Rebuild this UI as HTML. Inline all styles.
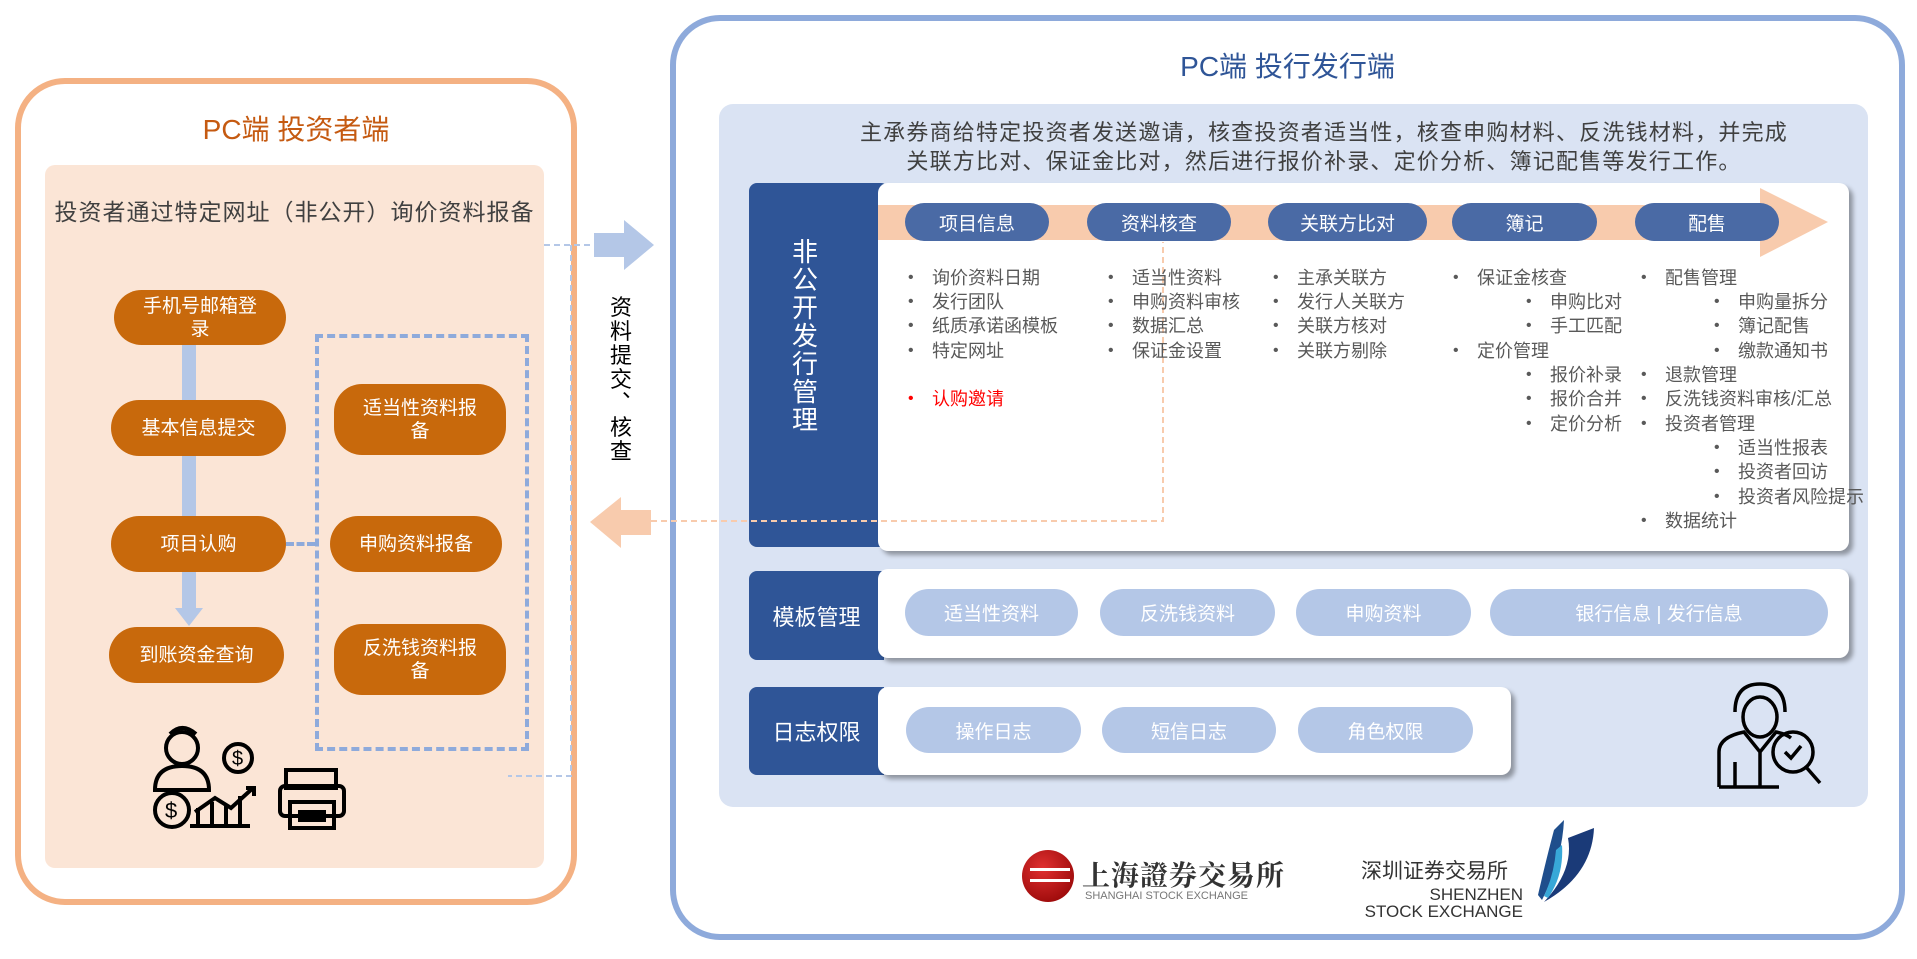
<!DOCTYPE html>
<html><head><meta charset="utf-8"><style>
*{margin:0;padding:0;box-sizing:border-box}
body{width:1917px;height:959px;background:#fff;position:relative;overflow:hidden;font-family:"Liberation Sans","Noto Sans CJK SC",sans-serif}
.a{position:absolute}
.op{position:absolute;background:#c8690c;color:#fff;border-radius:28px;display:flex;align-items:center;justify-content:center;text-align:center;font-size:19px;line-height:23px;padding:0 22px}
.bp{position:absolute;background:#4a6aa5;color:#fff;border-radius:19px;height:38px;top:203px;display:flex;align-items:center;justify-content:center;font-size:19px}
.lp{position:absolute;background:#b4c7e7;color:#fff;border-radius:24px;display:flex;align-items:center;justify-content:center;font-size:19px}
.dk{position:absolute;background:#2f5597;color:#fff;border-radius:8px 0 0 8px;display:flex;align-items:center;justify-content:center;font-size:22px}
.card{position:absolute;background:#fff;border-radius:10px;box-shadow:4px 4px 5px rgba(0,0,0,.35)}
.t{position:absolute;font-size:18px;color:#595959;white-space:nowrap;line-height:24px}
.t::before{content:"•";position:absolute;left:-24px;font-size:16px}
</style></head><body>
<!-- left box -->
<div class="a" style="left:15px;top:78px;width:562px;height:827px;border:6px solid #f4b183;border-radius:50px"></div>
<div class="a" style="left:15px;top:108px;width:562px;text-align:center;font-size:28px;color:#c55a11">PC端 投资者端</div>
<div class="a" style="left:45px;top:165px;width:499px;height:703px;background:#fbe5d6;border-radius:10px"></div>
<div class="a" style="left:45px;top:193px;width:499px;text-align:center;font-size:23px;letter-spacing:1px;color:#404040;white-space:nowrap">投资者通过特定网址（非公开）询价资料报备</div>
<div class="a" style="left:182px;top:340px;width:14px;height:272px;background:#b4c7e7"></div>
<div class="a" style="left:175px;top:608px;width:0;height:0;border-left:14px solid transparent;border-right:14px solid transparent;border-top:18px solid #b4c7e7"></div>
<div class="a" style="left:315px;top:334px;width:214px;height:417px;border:4px dashed #8eaadb"></div>
<div class="a" style="left:286px;top:542px;width:29px;border-top:4px dashed #8eaadb"></div>
<div class="op" style="left:114px;top:290px;width:172px;height:55px">手机号邮箱登录</div>
<div class="op" style="left:111px;top:400px;width:175px;height:56px">基本信息提交</div>
<div class="op" style="left:111px;top:516px;width:175px;height:56px">项目认购</div>
<div class="op" style="left:109px;top:627px;width:175px;height:56px">到账资金查询</div>
<div class="op" style="left:334px;top:384px;width:172px;height:71px">适当性资料报备</div>
<div class="op" style="left:330px;top:516px;width:172px;height:56px">申购资料报备</div>
<div class="op" style="left:334px;top:624px;width:172px;height:71px">反洗钱资料报备</div>
<svg class="a" style="left:150px;top:720px" width="210" height="112" viewBox="0 0 210 112" fill="none" stroke="#000" stroke-width="4">
<circle cx="32" cy="28" r="16"/><path d="M20 14 q12 -12 26 0"/><path d="M5 70 q0 -24 27 -24 q27 0 27 24 z"/>
<circle cx="88" cy="38" r="14"/><text x="82" y="45" font-size="20" fill="#000" stroke="none" font-family="Liberation Sans">$</text>
<circle cx="22" cy="90" r="17"/><text x="15" y="98" font-size="22" fill="#000" stroke="none" font-family="Liberation Sans">$</text>
<path d="M40 106 h60 M48 106 v-18 M62 106 v-24 M76 106 v-20 M90 106 v-30 M45 92 l20 -14 l16 10 l22 -20 M96 68 h8 v8"/>
<rect x="136" y="50" width="50" height="18"/><rect x="130" y="66" width="64" height="30" rx="5"/><rect x="140" y="82" width="44" height="26"/><path d="M148 92 h28 M148 100 h28"/>
</svg>
<!-- connectors -->
<svg class="a" style="left:0;top:0" width="1917" height="959">
<path d="M544 245 H593 M571 245 V776 H508" stroke="#b4c7e7" stroke-width="2" stroke-dasharray="6 4" fill="none"/>
<path d="M594 233 H624 V220 L654 245 L624 270 V257 H594 Z" fill="#b4c7e7"/>
<path d="M651 510 H621 V497 L590 522 L621 548 V535 H651 Z" fill="#f8cbad"/>
</svg>
<div class="a" style="left:609px;top:296px;width:24px;font-size:22px;line-height:24px;color:#000;text-align:center">资<br>料<br>提<br>交<br>&nbsp;<br>核<br>查</div>
<div class="a" style="left:622px;top:378px;font-size:22px;line-height:24px;color:#000">、</div>
<!-- right box -->
<div class="a" style="left:670px;top:15px;width:1235px;height:925px;border:6px solid #8eaadb;border-radius:50px"></div>
<div class="a" style="left:670px;top:45px;width:1235px;text-align:center;font-size:28px;color:#2f5597">PC端 投行发行端</div>
<div class="a" style="left:719px;top:104px;width:1149px;height:703px;background:#dae3f3;border-radius:14px"></div>
<div class="a" style="left:719px;top:118px;width:1210px;text-align:center;font-size:22px;letter-spacing:1.2px;line-height:29px;color:#404040;white-space:nowrap">主承券商给特定投资者发送邀请，核查投资者适当性，核查申购材料、反洗钱材料，并完成<br>关联方比对、保证金比对，然后进行报价补录、定价分析、簿记配售等发行工作。</div>
<div class="dk" style="left:749px;top:183px;width:140px;height:364px;border-radius:8px"><div style="position:absolute;left:42px;top:55px;width:28px;font-size:26px;line-height:28px;text-align:center">非公开发行管理</div></div>
<div class="card" style="left:878px;top:183px;width:971px;height:368px"></div>
<svg class="a" style="left:878px;top:188px" width="960" height="70"><path d="M0 17 H882 V0 L950 34 L882 69 V52 H0 Z" fill="#f8cbad"/></svg>
<div class="bp" style="left:905px;width:144px">项目信息</div>
<div class="bp" style="left:1087px;width:144px">资料核查</div>
<div class="bp" style="left:1268px;width:159px">关联方比对</div>
<div class="bp" style="left:1452px;width:145px">簿记</div>
<div class="bp" style="left:1635px;width:144px">配售</div>
<svg class="a" style="left:0;top:0" width="1917" height="959"><path d="M651 521 H1163 V242" stroke="#f8cbad" stroke-width="2" stroke-dasharray="6 4" fill="none"/></svg>
<div class="t" style="left:932px;top:266px">询价资料日期</div>
<div class="t" style="left:932px;top:290px">发行团队</div>
<div class="t" style="left:932px;top:314px">纸质承诺函模板</div>
<div class="t" style="left:932px;top:339px">特定网址</div>
<div class="t" style="left:932px;top:387px;color:#ff0000">认购邀请</div>
<div class="t" style="left:1132px;top:266px">适当性资料</div>
<div class="t" style="left:1132px;top:290px">申购资料审核</div>
<div class="t" style="left:1132px;top:314px">数据汇总</div>
<div class="t" style="left:1132px;top:339px">保证金设置</div>
<div class="t" style="left:1297px;top:266px">主承关联方</div>
<div class="t" style="left:1297px;top:290px">发行人关联方</div>
<div class="t" style="left:1297px;top:314px">关联方核对</div>
<div class="t" style="left:1297px;top:339px">关联方剔除</div>
<div class="t" style="left:1477px;top:266px">保证金核查</div>
<div class="t" style="left:1550px;top:290px">申购比对</div>
<div class="t" style="left:1550px;top:314px">手工匹配</div>
<div class="t" style="left:1477px;top:339px">定价管理</div>
<div class="t" style="left:1550px;top:363px">报价补录</div>
<div class="t" style="left:1550px;top:387px">报价合并</div>
<div class="t" style="left:1550px;top:412px">定价分析</div>
<div class="t" style="left:1665px;top:266px">配售管理</div>
<div class="t" style="left:1738px;top:290px">申购量拆分</div>
<div class="t" style="left:1738px;top:314px">簿记配售</div>
<div class="t" style="left:1738px;top:339px">缴款通知书</div>
<div class="t" style="left:1665px;top:363px">退款管理</div>
<div class="t" style="left:1665px;top:387px">反洗钱资料审核/汇总</div>
<div class="t" style="left:1665px;top:412px">投资者管理</div>
<div class="t" style="left:1738px;top:436px">适当性报表</div>
<div class="t" style="left:1738px;top:460px">投资者回访</div>
<div class="t" style="left:1738px;top:485px">投资者风险提示</div>
<div class="t" style="left:1665px;top:509px">数据统计</div>
<!-- template row -->
<div class="dk" style="left:749px;top:571px;width:135px;height:89px">模板管理</div>
<div class="card" style="left:878px;top:569px;width:971px;height:89px"></div>
<div class="lp" style="left:905px;top:589px;width:173px;height:47px">适当性资料</div>
<div class="lp" style="left:1100px;top:589px;width:175px;height:47px">反洗钱资料</div>
<div class="lp" style="left:1296px;top:589px;width:175px;height:47px">申购资料</div>
<div class="lp" style="left:1490px;top:589px;width:338px;height:47px">银行信息 | 发行信息</div>
<!-- log row -->
<div class="dk" style="left:749px;top:687px;width:135px;height:88px">日志权限</div>
<div class="card" style="left:878px;top:687px;width:633px;height:88px"></div>
<div class="lp" style="left:906px;top:707px;width:175px;height:46px">操作日志</div>
<div class="lp" style="left:1102px;top:707px;width:174px;height:46px">短信日志</div>
<div class="lp" style="left:1298px;top:707px;width:175px;height:46px">角色权限</div>
<svg class="a" style="left:1715px;top:682px" width="110" height="110" viewBox="0 0 110 110" fill="none" stroke="#000" stroke-width="3.5">
<path d="M20 30 q0 -28 25 -28 q25 0 25 28"/><ellipse cx="45" cy="35" rx="17" ry="20"/><path d="M4 105 V70 q0 -15 25 -20 l16 20 l16 -20 q10 2 15 6 M4 105 h60 M45 70 v35 M20 80 v25"/>
<circle cx="78" cy="70" r="20"/><path d="M70 70 l6 6 l10 -12 M91 85 l14 16"/>
</svg>
<!-- logos -->
<div class="a" style="left:1022px;top:850px;width:52px;height:52px;border-radius:50%;background:radial-gradient(circle at 40% 35%,#e03030,#8a0000)"></div>
<div class="a" style="left:1030px;top:868px;width:40px;height:14px;border-top:3px solid #fff;border-bottom:3px solid #fff"></div>
<div class="a" style="left:1082px;top:854px;font-size:28px;font-weight:bold;color:#333;font-family:'Noto Serif CJK SC',serif;letter-spacing:1px">上海證券交易所</div>
<div class="a" style="left:1085px;top:890px;font-size:11px;color:#777;letter-spacing:0">SHANGHAI STOCK EXCHANGE</div>
<div class="a" style="left:1361px;top:855px;font-size:21px;color:#333">深圳证券交易所</div>
<div class="a" style="left:1361px;top:886px;width:162px;text-align:right;font-size:17px;color:#333;line-height:17px">SHENZHEN<br>STOCK EXCHANGE</div>
<svg class="a" style="left:1534px;top:820px" width="65" height="82"><path d="M20 10 L30 0 Q28 40 8 80 L4 75 Q12 40 20 10Z" fill="#1f4e8c"/><path d="M34 18 L60 8 Q58 55 10 82 Q40 50 34 18Z" fill="#1a3a78"/><path d="M22 30 Q20 55 10 76 L14 78 Q30 55 28 25Z" fill="#38a8d8"/></svg>
</body></html>
